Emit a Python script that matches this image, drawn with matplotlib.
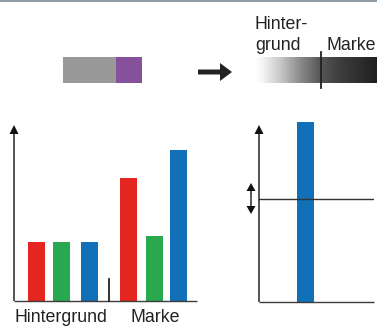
import numpy as np
import matplotlib
matplotlib.use("Agg")
import matplotlib.pyplot as plt
from matplotlib.patches import FancyArrow, FancyArrowPatch, Rectangle

plt.rcParams['font.family'] = ['Liberation Sans', 'DejaVu Sans']

# data (arbitrary units, axis runs 0..176)
left_pos = [22.5, 47.5, 75.5, 114.5, 140.5, 164.5]
left_vals = [59, 59, 59, 123, 65, 151]
left_cols = ['#e52620', '#29a84f', '#1170b8', '#e52620', '#29a84f', '#1170b8']
group_labels = ['Hintergrund', 'Marke']
right_val = 180
threshold = 103

W, H = 377, 326
fig = plt.figure(figsize=(W / 100, H / 100), dpi=100)

def px_axes(x0, y0, x1, y1):
    # axes placed by pixel box (top-left origin)
    return fig.add_axes([x0 / W, (H - y1) / H, (x1 - x0) / W, (y1 - y0) / H])

# left bar chart
axl = px_axes(14, 125, 197, 301)
axl.bar(left_pos, left_vals, width=17, color=left_cols)
axl.set_xlim(0, 183)
axl.set_ylim(0, 176)
axl.axis('off')

# right bar chart
axr = px_axes(259, 122, 374, 302)
axr.bar([46.5], [right_val], width=17, color='#1170b8')
axr.set_xlim(0, 115)
axr.set_ylim(0, 180)
axr.axhline(threshold, color='#333333', lw=1.0, zorder=3)
axr.axis('off')

# overlay in pixel coordinates
ov = fig.add_axes([0, 0, 1, 1], zorder=5)
ov.set_xlim(0, W)
ov.set_ylim(H, 0)
ov.axis('off')

lc = '#3c3c3c'
# top border line
ov.plot([0, W], [0.6, 0.6], color='#7b8794', lw=1.2)

# swatch
ov.add_patch(Rectangle((63, 57), 53, 26, color='#999999', lw=0))
ov.add_patch(Rectangle((116, 57), 26, 26, color='#85519b', lw=0))

# big arrow
ov.add_patch(FancyArrow(198, 72, 34, 0, width=5, head_width=18, head_length=12,
                        length_includes_head=True, color='#222222', lw=0))

# gradient bar
xs = np.linspace(255, 377, 300)
vals = np.interp(xs, [255, 262, 280, 300, 320, 340, 377], [255, 245, 200, 140, 88, 62, 32]) / 255
grad = np.tile(vals, (2, 1))
ov.imshow(grad, cmap='gray', vmin=0, vmax=1, extent=(255, 377, 83, 57),
          aspect='auto', interpolation='bilinear')
ov.set_xlim(0, W)
ov.set_ylim(H, 0)
ov.plot([321, 321], [52, 88], color='#222222', lw=1.3)

fs = 12.8
ov.text(255, 29, 'Hinter-', fontsize=fs, color='#222222', va='baseline')
ov.text(255, 50, 'grund', fontsize=fs, color='#222222', va='baseline')
ov.text(327, 50, 'Marke', fontsize=fs, color='#222222', va='baseline')

# left axes lines
ov.plot([14, 197], [301, 301], color=lc, lw=1.0, solid_capstyle='butt')
ov.add_patch(FancyArrow(14, 301, 0, -176, width=1.4, head_width=9, head_length=9,
                        length_includes_head=True, color='#111111', lw=0))
ov.plot([109, 109], [279, 301], color='#222222', lw=1.3)
ov.text(61, 322, group_labels[0], fontsize=fs, color='#222222', ha='center', va='baseline')
ov.text(155, 322, group_labels[1], fontsize=fs, color='#222222', ha='center', va='baseline')

# right axes lines
ov.plot([259, 374], [302, 302], color=lc, lw=1.0, solid_capstyle='butt')
ov.add_patch(FancyArrow(259, 302, 0, -177, width=1.4, head_width=9, head_length=9,
                        length_includes_head=True, color='#111111', lw=0))
ov.add_patch(FancyArrow(251, 198.5, 0, -15.5, width=1.4, head_width=9, head_length=8,
                        length_includes_head=True, color='#111111', lw=0))
ov.add_patch(FancyArrow(251, 198.5, 0, 15.5, width=1.4, head_width=9, head_length=8,
                        length_includes_head=True, color='#111111', lw=0))

fig.savefig('out.png', dpi=100)
